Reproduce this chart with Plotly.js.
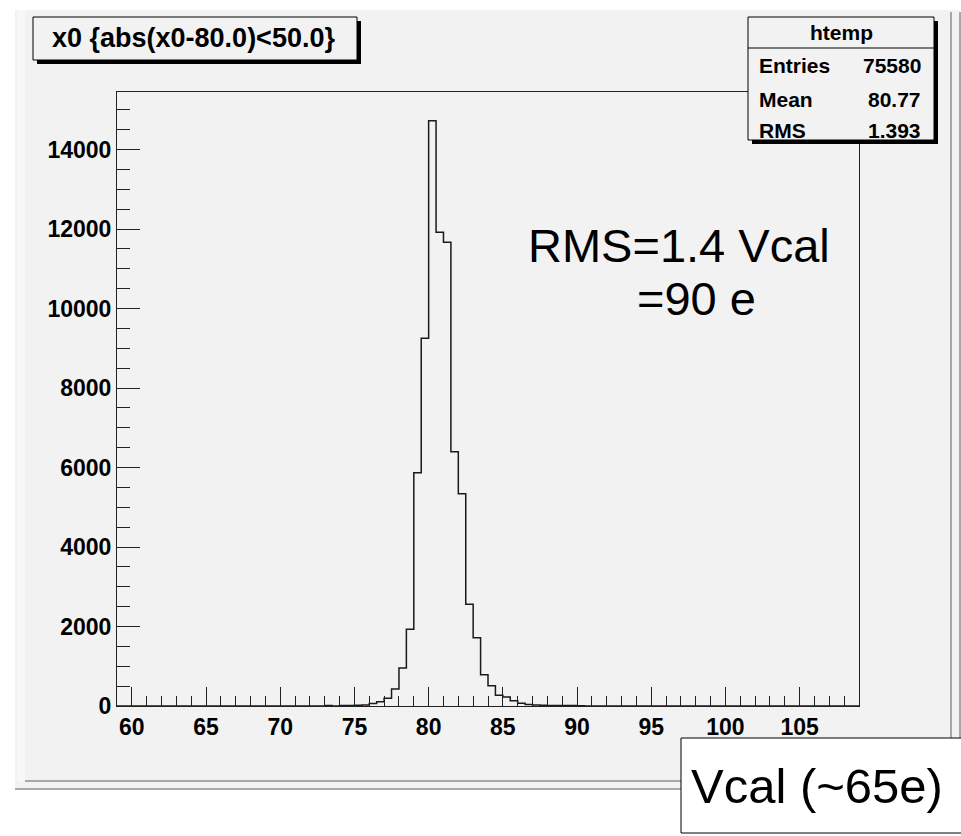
<!DOCTYPE html>
<html>
<head>
<meta charset="utf-8">
<script src="https://cdn.plot.ly/plotly-3.0.1.min.js"></script>
<style>
html,body{margin:0;padding:0;background:#fff;}
#chart{width:961px;height:836px;}
</style>
</head>
<body>
<div id="chart"></div>
<script>
// ---- data ----
const histName = "htemp";
const titleText = "x0 {abs(x0-80.0)&lt;50.0}";
const statLabels = ["Entries", "Mean", "RMS"];
const statValues = ["75580", "80.77", "1.393"];
const xRange = [59, 109];
const yRange = [0, 15450];
const binStart = 72.0;
const binWidth = 0.5;
// counts per bin, starting at binStart (bins outside are empty)
const counts = [
  0, 0, 12, 3, 15, 15, 20, 25,          // 72.0 .. 75.5
  60, 110, 193, 428, 955, 1929, 5870, 9251, // 76.0 .. 79.5
  14726, 11918, 11667, 6399, 5342, 2558, 1719, 788, // 80.0 .. 83.5
  511, 268, 226, 134, 67, 38, 25, 18,   // 84.0 .. 87.5
  15, 12, 10, 10, 8, 0                  // 88.0 .. 90.5
];
const noteLine1 = "RMS=1.4 Vcal";
const noteLine2 = "=90 e";
const unitNote = "Vcal (~65e)";

// ---- build step outline from bins ----
const xs = [xRange[0]], ys = [0];
for (let i = 0; i < counts.length; i++) {
  xs.push(binStart + i * binWidth);
  ys.push(counts[i]);
}
xs.push(binStart + counts.length * binWidth); ys.push(0);
xs.push(xRange[1]); ys.push(0);

// ---- pixel -> paper helpers for decoration ----
const W = 961, H = 836;
const L = 117, R = 859, T = 92, B = 706;
const px = x => (x - L) / (R - L);
const py = y => (B - y) / (B - T);

const fam = "Liberation Sans, Arial, Helvetica, sans-serif";
const tickFont = {family: fam, size: 23, color: "#000", weight: 700};
const statFont = {family: fam, size: 21, color: "#000", weight: 700};
const titleFont = {family: fam, size: 27, color: "#000", weight: 700};
const bevel = "#a8a8a8";

function rect(x0, y0, x1, y1, fill, lineColor, lw) {
  return {type: "rect", xref: "paper", yref: "paper", x0: px(x0), x1: px(x1), y0: py(y0), y1: py(y1),
    fillcolor: fill, line: {color: lineColor || fill, width: lw === undefined ? 0 : lw}, layer: "above"};
}
function line(x0, y0, x1, y1, color, lw) {
  return {type: "line", xref: "paper", yref: "paper", x0: px(x0), x1: px(x1), y0: py(y0), y1: py(y1),
    line: {color: color, width: lw}, layer: "above"};
}

const shapes = [
  // canvas
  Object.assign(rect(15, 10, 960, 790, "#f2f2f2"), {layer: "below"}),
  Object.assign(rect(17, 10, 25, 781, "#f7f7f7"), {layer: "below"}),
  line(960, 12, 960, 790, bevel, 2),
  line(15, 789, 960, 789, bevel, 2),
  line(951, 12, 951, 781, bevel, 2),
  line(25, 781, 951, 781, bevel, 2),
  // title box with shadow
  rect(37, 21, 361, 64, "#000"),
  rect(33, 17, 357, 60, "#f2f2f2", "#000", 1),
  // stats box with shadow
  rect(752, 21, 938, 144, "#000"),
  rect(748, 17, 934, 140, "#f2f2f2", "#000", 1),
  line(748, 48, 934, 48, "#000", 1),
  // unit note box
  rect(681, 738, 965, 833, "#ffffff", "#000", 1)
];

function ann(text, x, y, xanchor, font) {
  return {text: text, xref: "paper", yref: "paper", x: px(x), y: py(y), xanchor: xanchor, yanchor: "middle",
    showarrow: false, font: font, borderpad: 0};
}
const bigFont = {family: fam, size: 47, color: "#000"};
const annotations = [
  ann(titleText, 193, 38, "center", titleFont),
  ann(histName, 841, 33, "center", statFont),
  ann(noteLine1, 527, 245, "left", bigFont),
  ann(noteLine2, 636, 298, "left", bigFont),
  ann(unitNote, 690, 786, "left", {family: fam, size: 49, color: "#000"})
];
const rowY = [66, 99, 130];
for (let i = 0; i < statLabels.length; i++) {
  annotations.push(ann(statLabels[i], 758, rowY[i], "left", statFont));
  annotations.push(ann(statValues[i], 922, rowY[i], "right", statFont));
}

const trace = {
  type: "scatter", mode: "lines", x: xs, y: ys,
  line: {shape: "hv", color: "#1a1a1a", width: 1.5},
  hoverinfo: "skip", cliponaxis: false
};

const layout = {
  width: W, height: H,
  margin: {l: L, r: W - R, t: T, b: H - B, pad: 0},
  paper_bgcolor: "#ffffff",
  plot_bgcolor: "#f2f2f2",
  showlegend: false,
  xaxis: {
    range: xRange, tickmode: "linear", tick0: 60, dtick: 5,
    ticks: "inside", ticklen: 19, tickwidth: 1, tickcolor: "#222",
    minor: {tick0: 59, dtick: 1, ticks: "inside", ticklen: 10, tickwidth: 1, tickcolor: "#222"},
    showgrid: false, zeroline: false, showline: true, linecolor: "#222", linewidth: 1, mirror: true,
    tickfont: tickFont, ticklabelstandoff: 0, fixedrange: true, tickformat: "d"
  },
  yaxis: {
    range: yRange, tickmode: "linear", tick0: 0, dtick: 2000,
    ticks: "inside", ticklen: 23, tickwidth: 1, tickcolor: "#222",
    minor: {dtick: 500, ticks: "inside", ticklen: 13, tickwidth: 1, tickcolor: "#222"},
    showgrid: false, zeroline: false, showline: true, linecolor: "#222", linewidth: 1, mirror: true,
    tickfont: tickFont, ticklabelstandoff: 0, fixedrange: true, tickformat: "d", exponentformat: "none"
  },
  shapes: shapes,
  annotations: annotations
};

Plotly.newPlot("chart", [trace], layout, {displayModeBar: false, staticPlot: true});
</script>
</body>
</html>
